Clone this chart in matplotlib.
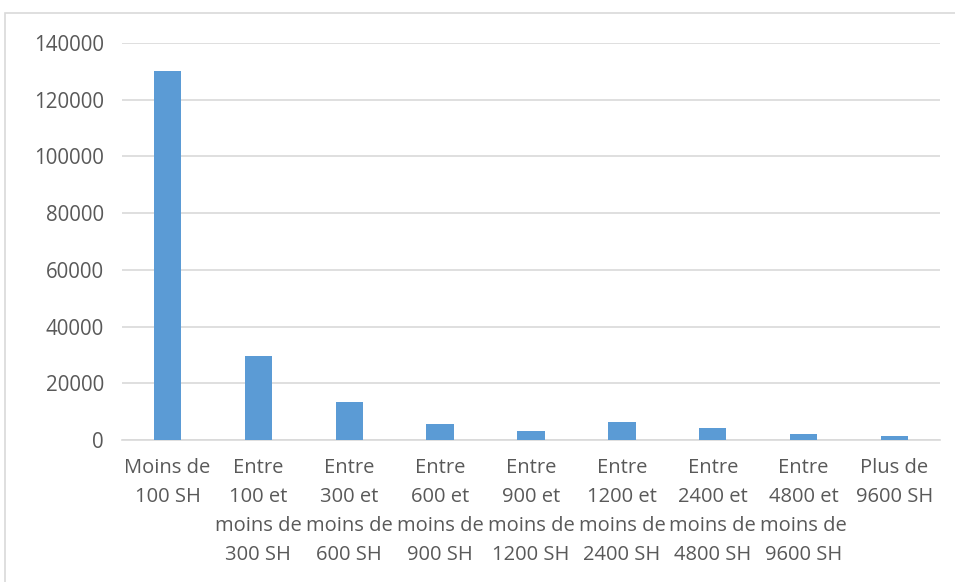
import matplotlib
matplotlib.use("Agg")
import matplotlib.pyplot as plt
from matplotlib.patches import Rectangle

categories = [
    "Moins de\n100 SH",
    "Entre\n100 et\nmoins de\n300 SH",
    "Entre\n300 et\nmoins de\n600 SH",
    "Entre\n600 et\nmoins de\n900 SH",
    "Entre\n900 et\nmoins de\n1200 SH",
    "Entre\n1200 et\nmoins de\n2400 SH",
    "Entre\n2400 et\nmoins de\n4800 SH",
    "Entre\n4800 et\nmoins de\n9600 SH",
    "Plus de\n9600 SH",
]
values = [130100, 29600, 13500, 5800, 3300, 6500, 4300, 2150, 1450]
yticks = [0, 20000, 40000, 60000, 80000, 100000, 120000, 140000]

plt.rcParams['font.family'] = ['Open Sans', 'DejaVu Sans']

fig = plt.figure(figsize=(9.55, 5.82), dpi=100)
fig.patches.append(Rectangle((5/955, -0.1), 1.1, 1 - 13/582 + 0.1, transform=fig.transFigure,
                             fill=False, edgecolor='#d9d9d9', linewidth=1.2))
ax = fig.add_axes([122/955, 1 - 440/582, (940 - 122)/955, (440 - 43)/582])

x = list(range(len(categories)))
ax.bar(x, values, width=0.3, color='#5b9bd5', zorder=3)
ax.set_xlim(-0.5, len(categories) - 0.5)
ax.set_ylim(0, 140000)
ax.set_yticks(yticks)
ax.set_yticklabels([str(v) for v in yticks], fontsize=14.8, color='#595959')
ax.set_xticks(x)
ax.set_xticklabels(categories, fontsize=14.5, color='#595959', linespacing=1.6, va='top')
ax.grid(axis='y', color='#d9d9d9', linewidth=1.2, zorder=0)
for s in ['top', 'right', 'left']:
    ax.spines[s].set_visible(False)
ax.spines['bottom'].set_color('#d9d9d9')
ax.spines['bottom'].set_linewidth(1.2)
ax.tick_params(axis='both', length=0)
ax.tick_params(axis='x', pad=13)
ax.tick_params(axis='y', pad=13)

fig.savefig("out.png", dpi=100)
